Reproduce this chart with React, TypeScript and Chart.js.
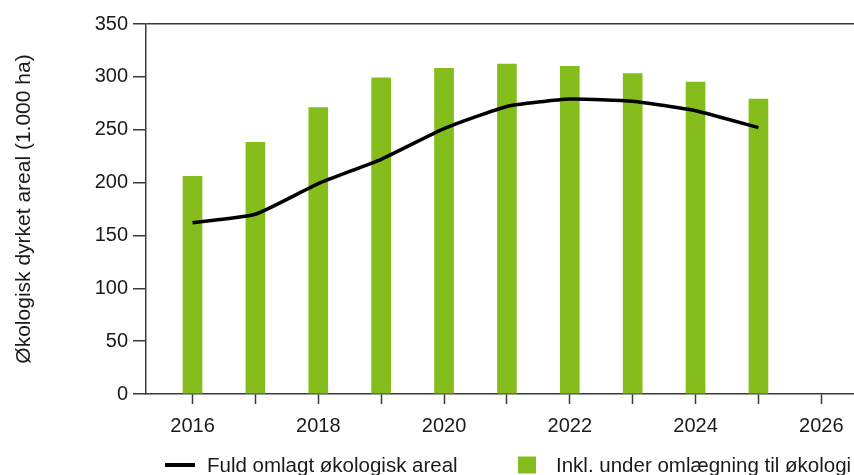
import React, { useEffect, useRef } from "react";
import { Chart, registerables } from "chart.js";

Chart.register(...registerables);

const years = [2016, 2017, 2018, 2019, 2020, 2021, 2022, 2023, 2024, 2025];
const inclConversion = [206, 238, 271, 299, 308, 312, 310, 303, 295, 279];
const fullyConverted = [162, 170, 199, 222, 251, 272, 279, 277, 268, 252];
const lineLabel = "Fuld omlagt økologisk areal";
const barLabel = "Inkl. under omlægning til økologi";
const yTitle = "Økologisk dyrket areal (1.000 ha)";

const GREEN = "#85bd1d";
const AXIS = "#3a3a3a";
const TEXT = "#1a1a1a";
const FONT = "'Liberation Sans', Arial, sans-serif";

const legendPlugin = {
  id: "bottomLegend",
  afterDraw(chart: any) {
    const ctx = chart.ctx;
    const y = 465;
    ctx.save();
    ctx.font = `20.5px ${FONT}`;
    ctx.fillStyle = TEXT;
    ctx.textBaseline = "middle";
    ctx.textAlign = "left";
    ctx.strokeStyle = chart.data.datasets[0].borderColor;
    ctx.lineWidth = 4;
    ctx.lineCap = "butt";
    ctx.beginPath();
    ctx.moveTo(165, y);
    ctx.lineTo(195, y);
    ctx.stroke();
    ctx.fillText(chart.data.datasets[0].label, 207, y + 1);
    ctx.fillStyle = chart.data.datasets[1].backgroundColor;
    ctx.fillRect(518, y - 8.5, 18, 17);
    ctx.fillStyle = TEXT;
    ctx.fillText(chart.data.datasets[1].label, 556, y + 1);
    ctx.restore();
  },
};

export default function App() {
  const ref = useRef<HTMLCanvasElement>(null);
  useEffect(() => {
    if (!ref.current) return;
    Chart.defaults.font.family = FONT;
    Chart.defaults.color = TEXT;
    const chart = new Chart(ref.current, {
      type: "bar",
      data: {
        datasets: [
          {
            type: "line",
            label: lineLabel,
            data: years.map((x, i) => ({ x, y: fullyConverted[i] })),
            borderColor: "#000000",
            backgroundColor: "#000000",
            borderWidth: 3.5,
            pointRadius: 0,
            tension: 0.15,
            order: 0,
          } as any,
          {
            type: "bar",
            label: barLabel,
            data: years.map((x, i) => ({ x, y: inclConversion[i] })),
            backgroundColor: GREEN,
            borderWidth: 0,
            barThickness: 19,
            order: 1,
          } as any,
        ],
      },
      options: {
        responsive: false,
        animation: false,
        layout: { padding: { top: 24, bottom: 27, left: 0, right: 0 } },
        plugins: {
          legend: { display: false },
          tooltip: { enabled: false },
        },
        scales: {
          x: {
            type: "linear",
            min: 2015.26,
            max: 2026.52,
            offset: false,
            grid: {
              offset: false,
              drawOnChartArea: false,
              tickLength: 10,
              tickColor: AXIS,
              tickWidth: 1.5,
            },
            border: { color: AXIS, width: 1.5 },
            ticks: {
              stepSize: 1,
              autoSkip: false,
              includeBounds: false,
              maxRotation: 0,
              padding: 10,
              font: { size: 20 },
              color: TEXT,
              callback: (v: any) => (Number(v) % 2 === 0 ? String(v) : ""),
            },
          },
          y: {
            min: 0,
            max: 350,
            afterFit: (s: any) => {
              s.width = 146;
            },
            grid: {
              drawOnChartArea: true,
              tickLength: 13,
              tickColor: AXIS,
              tickWidth: 1.5,
              lineWidth: 1.5,
              color: (c: any) => (c.tick && c.tick.value === 350 ? AXIS : "rgba(0,0,0,0)"),
            },
            border: { color: AXIS, width: 1.5 },
            ticks: {
              stepSize: 50,
              padding: 5,
              font: { size: 20 },
              color: TEXT,
            },
            title: {
              display: true,
              text: yTitle,
              font: { size: 21 },
              color: TEXT,
              padding: { top: 12, bottom: 0 },
            },
          },
        },
      },
      plugins: [legendPlugin],
    });
    return () => chart.destroy();
  }, []);
  return (
    <div style={{ position: "fixed", left: 0, top: 0, width: 854, height: 475, background: "#fff" }}>
      <canvas ref={ref} width={854} height={475} style={{ width: 854, height: 475, display: "block" }} />
    </div>
  );
}
